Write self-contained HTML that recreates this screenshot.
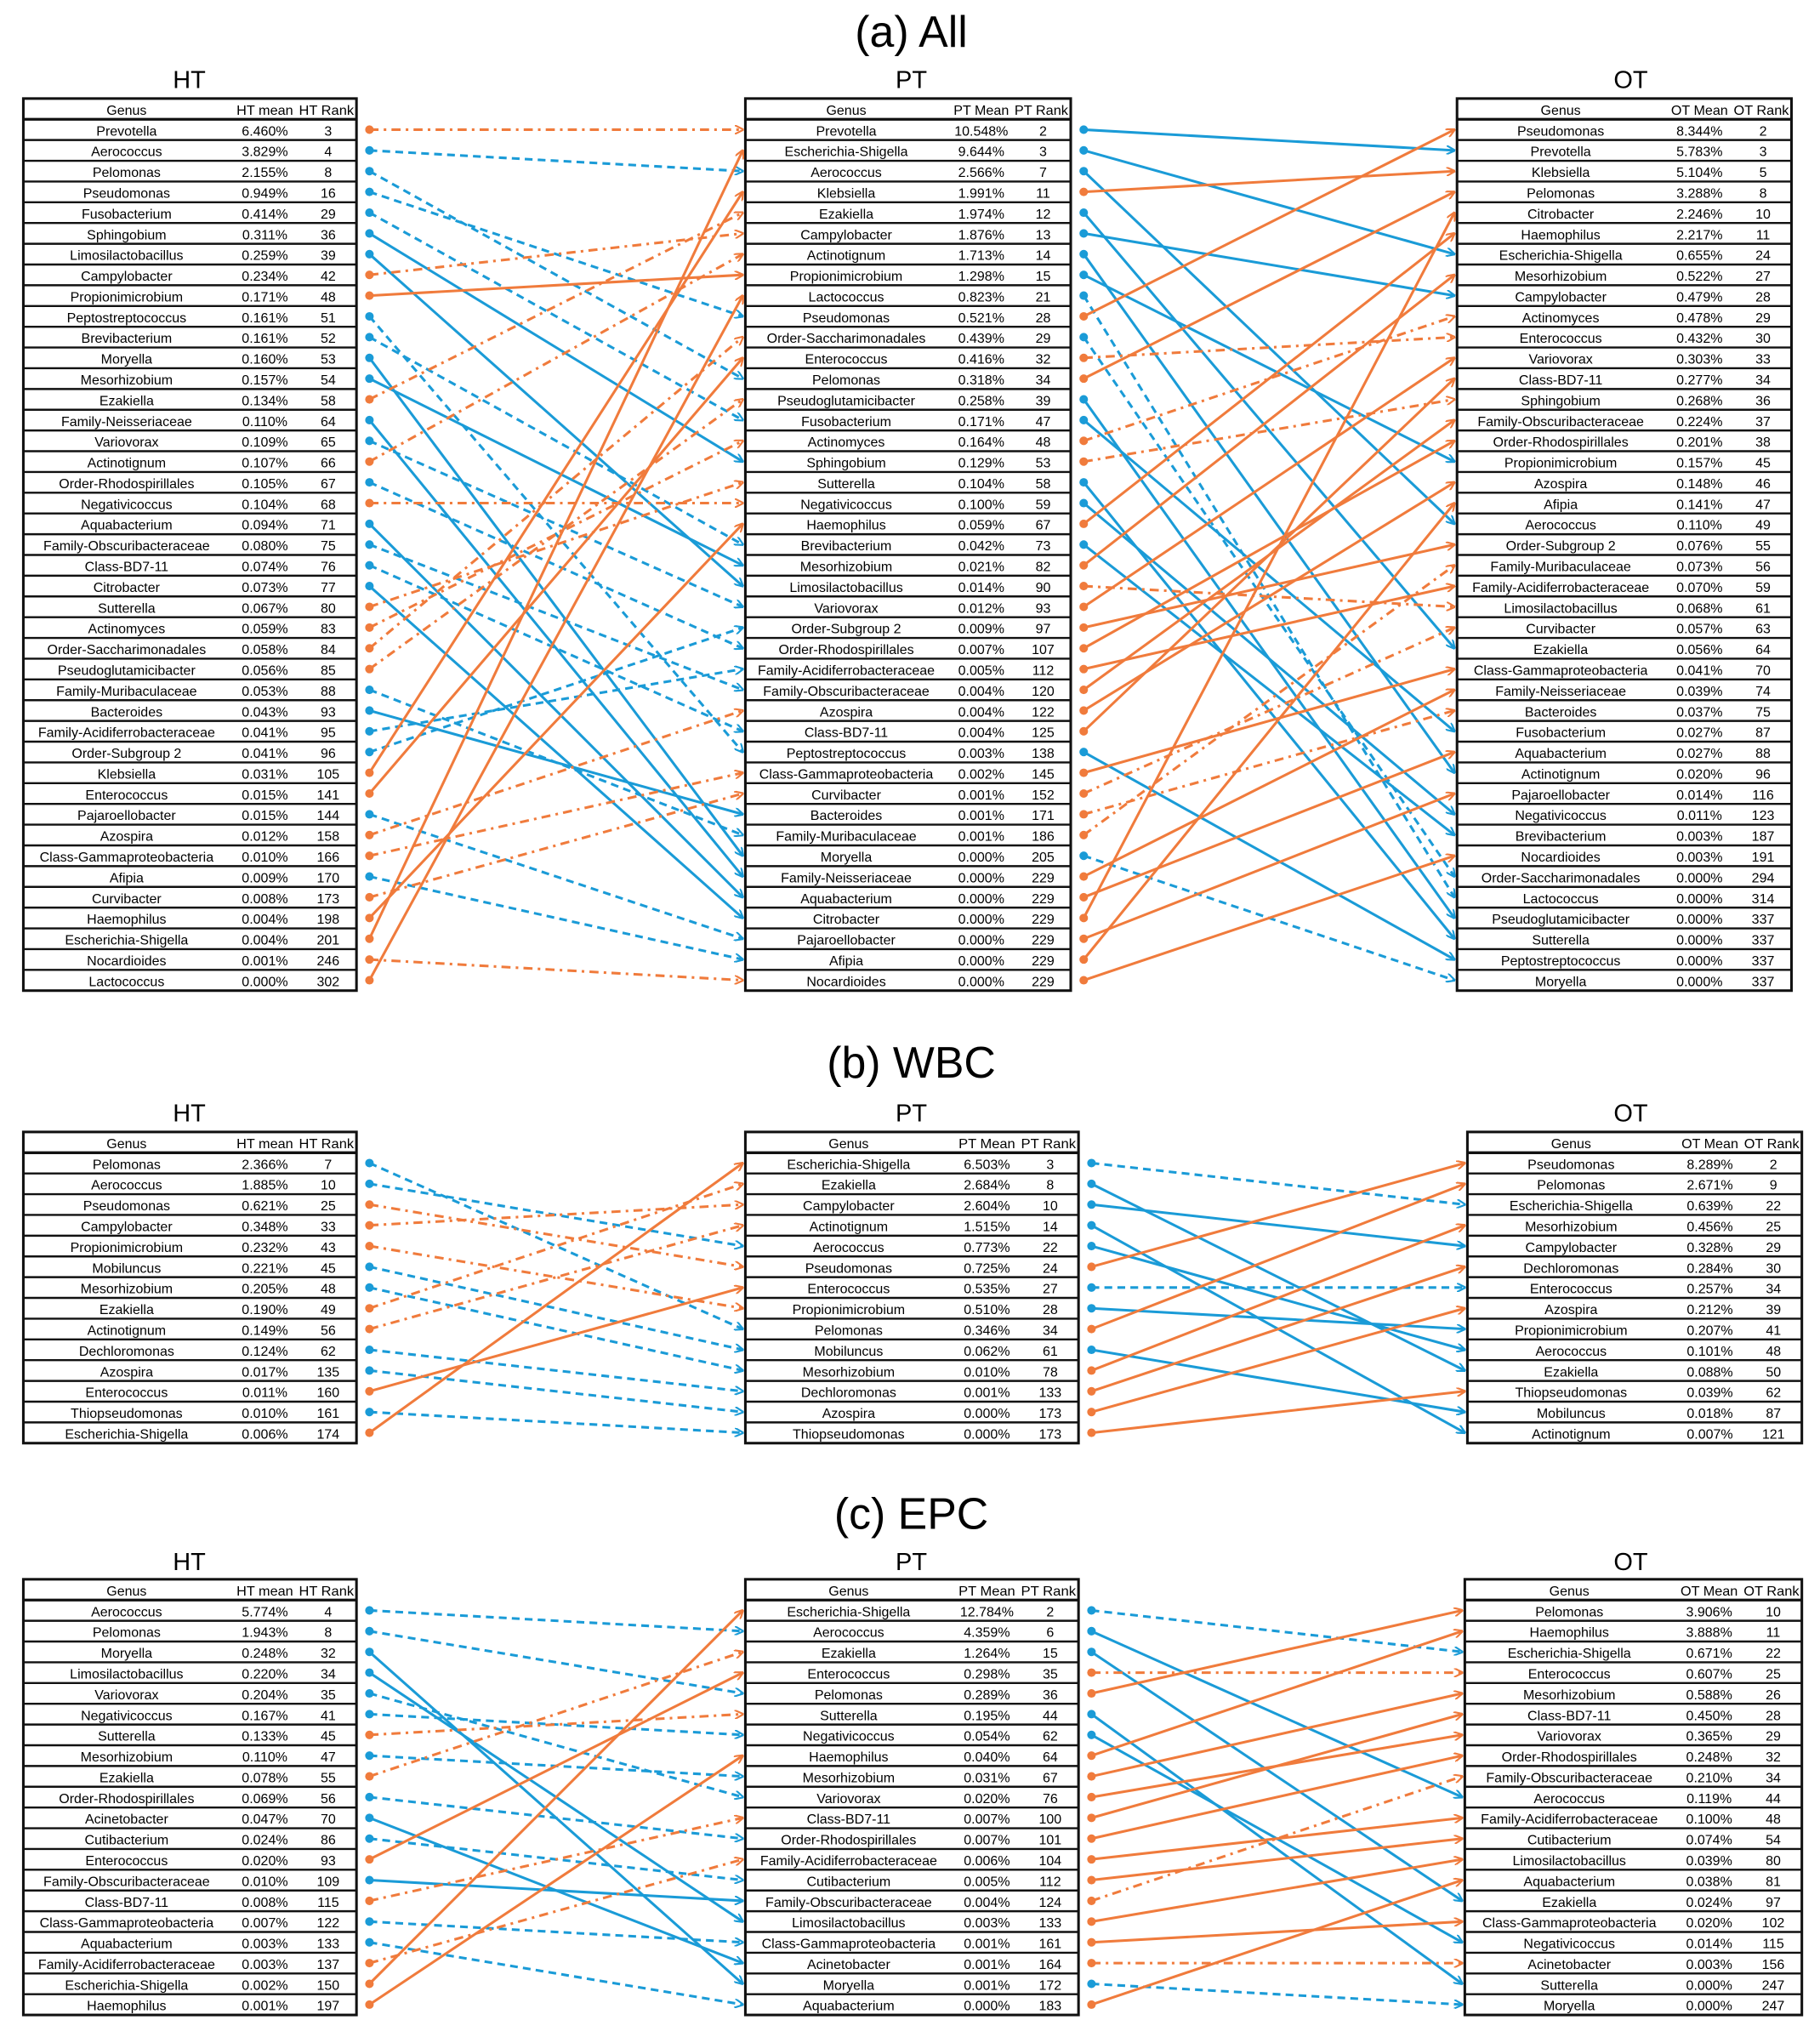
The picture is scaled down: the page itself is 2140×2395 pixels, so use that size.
<!DOCTYPE html>
<html><head><meta charset="utf-8"><style>
html,body{margin:0;padding:0;background:#fff;}
svg{display:block;}
text{font-family:"Liberation Sans",sans-serif;}
</style></head><body>
<svg id="s" xmlns="http://www.w3.org/2000/svg" width="2140" height="2395" viewBox="0 0 1404 1571" preserveAspectRatio="none">
<defs>
<marker id="ab" viewBox="0 0 10 10" refX="9" refY="5" markerWidth="7" markerHeight="7" orient="auto" markerUnits="userSpaceOnUse"><path d="M0,0 L10,5 L0,10" fill="none" stroke="#1a9bd7" stroke-width="2"/></marker>
<marker id="ao" viewBox="0 0 10 10" refX="9" refY="5" markerWidth="7" markerHeight="7" orient="auto" markerUnits="userSpaceOnUse"><path d="M0,0 L10,5 L0,10" fill="none" stroke="#f07b3c" stroke-width="2"/></marker>
</defs>
<g id="g"></g>
</svg>
<script>
const NS="http://www.w3.org/2000/svg";const G=document.getElementById('g');
function el(t,a,txt){const e=document.createElementNS(NS,t);for(const k in a)e.setAttribute(k,a[k]);if(txt!==undefined)e.textContent=txt;G.appendChild(e);return e;}
function parse(s){return s.split(';').map(r=>{const p=r.split('|');return {n:p[0],v:p[1],r:+p[2]};});}
function table(x0,x1,top,rows,h1,h2){
 const w=x1-x0,rh=16,y1=top+16+rows.length*rh;
 const cg=x0+0.31*w,cm=x0+0.725*w,cr=x0+0.915*w;
 el('rect',{x:x0,y:top,width:w,height:y1-top,fill:'none',stroke:'#111','stroke-width':2});
 el('text',{x:cg,y:top+12.5,'text-anchor':'middle','font-size':10.5},'Genus');
 el('text',{x:cm,y:top+12.5,'text-anchor':'middle','font-size':10,textLength:w*0.17,lengthAdjust:'spacingAndGlyphs'},h1);
 el('text',{x:x1-2,y:top+12.5,'text-anchor':'end','font-size':10,textLength:w*0.165,lengthAdjust:'spacingAndGlyphs'},h2);
 rows.forEach((r,i)=>{const y=top+16+i*rh;
  el('line',{x1:x0,x2:x1,y1:y,y2:y,stroke:'#111','stroke-width':i==0?2.2:1.6});
  el('text',{x:cg,y:y+12.5,'text-anchor':'middle','font-size':10.5},r.n);
  el('text',{x:cm,y:y+12.5,'text-anchor':'middle','font-size':10.5},r.v);
  el('text',{x:cr,y:y+12.5,'text-anchor':'middle','font-size':10.5},r.r);
 });
}
function links(A,B,xa,xb,top,solid,allSolidExcept){
 A.forEach((a,i)=>{const j=B.findIndex(b=>b.n==a.n);if(j<0)return;
  const b=B[j];const or=b.r<a.r;const c=or?'#f07b3c':'#1a9bd7';
  let sol=allSolidExcept?!solid.includes(a.n):solid.includes(a.n);
  const y1=top+24+i*16,y2=top+24+j*16;
  const da=sol?'':(or?'7,4,2,4':'6,4');
  el('line',{x1:xa+10,y1:y1,x2:xb-2,y2:y2,stroke:c,'stroke-width':2,'stroke-dasharray':da,'marker-end':or?'url(#ao)':'url(#ab)'});
  el('circle',{cx:xa+10,cy:y1,r:3.3,fill:c});
 });
}
function title(t,y){el('text',{x:703,y:y,'text-anchor':'middle','font-size':34},t);}
function lab(t,x,y){el('text',{x:x,y:y,'text-anchor':'middle','font-size':19},t);}

// (a)
title('(a) All',36);lab('HT',146,68);lab('PT',703,68);lab('OT',1258,68);
const aH=parse("Prevotella|6.460%|3;Aerococcus|3.829%|4;Pelomonas|2.155%|8;Pseudomonas|0.949%|16;Fusobacterium|0.414%|29;Sphingobium|0.311%|36;Limosilactobacillus|0.259%|39;Campylobacter|0.234%|42;Propionimicrobium|0.171%|48;Peptostreptococcus|0.161%|51;Brevibacterium|0.161%|52;Moryella|0.160%|53;Mesorhizobium|0.157%|54;Ezakiella|0.134%|58;Family-Neisseriaceae|0.110%|64;Variovorax|0.109%|65;Actinotignum|0.107%|66;Order-Rhodospirillales|0.105%|67;Negativicoccus|0.104%|68;Aquabacterium|0.094%|71;Family-Obscuribacteraceae|0.080%|75;Class-BD7-11|0.074%|76;Citrobacter|0.073%|77;Sutterella|0.067%|80;Actinomyces|0.059%|83;Order-Saccharimonadales|0.058%|84;Pseudoglutamicibacter|0.056%|85;Family-Muribaculaceae|0.053%|88;Bacteroides|0.043%|93;Family-Acidiferrobacteraceae|0.041%|95;Order-Subgroup 2|0.041%|96;Klebsiella|0.031%|105;Enterococcus|0.015%|141;Pajaroellobacter|0.015%|144;Azospira|0.012%|158;Class-Gammaproteobacteria|0.010%|166;Afipia|0.009%|170;Curvibacter|0.008%|173;Haemophilus|0.004%|198;Escherichia-Shigella|0.004%|201;Nocardioides|0.001%|246;Lactococcus|0.000%|302");
const aP=parse("Prevotella|10.548%|2;Escherichia-Shigella|9.644%|3;Aerococcus|2.566%|7;Klebsiella|1.991%|11;Ezakiella|1.974%|12;Campylobacter|1.876%|13;Actinotignum|1.713%|14;Propionimicrobium|1.298%|15;Lactococcus|0.823%|21;Pseudomonas|0.521%|28;Order-Saccharimonadales|0.439%|29;Enterococcus|0.416%|32;Pelomonas|0.318%|34;Pseudoglutamicibacter|0.258%|39;Fusobacterium|0.171%|47;Actinomyces|0.164%|48;Sphingobium|0.129%|53;Sutterella|0.104%|58;Negativicoccus|0.100%|59;Haemophilus|0.059%|67;Brevibacterium|0.042%|73;Mesorhizobium|0.021%|82;Limosilactobacillus|0.014%|90;Variovorax|0.012%|93;Order-Subgroup 2|0.009%|97;Order-Rhodospirillales|0.007%|107;Family-Acidiferrobacteraceae|0.005%|112;Family-Obscuribacteraceae|0.004%|120;Azospira|0.004%|122;Class-BD7-11|0.004%|125;Peptostreptococcus|0.003%|138;Class-Gammaproteobacteria|0.002%|145;Curvibacter|0.001%|152;Bacteroides|0.001%|171;Family-Muribaculaceae|0.001%|186;Moryella|0.000%|205;Family-Neisseriaceae|0.000%|229;Aquabacterium|0.000%|229;Citrobacter|0.000%|229;Pajaroellobacter|0.000%|229;Afipia|0.000%|229;Nocardioides|0.000%|229");
const aO=parse("Pseudomonas|8.344%|2;Prevotella|5.783%|3;Klebsiella|5.104%|5;Pelomonas|3.288%|8;Citrobacter|2.246%|10;Haemophilus|2.217%|11;Escherichia-Shigella|0.655%|24;Mesorhizobium|0.522%|27;Campylobacter|0.479%|28;Actinomyces|0.478%|29;Enterococcus|0.432%|30;Variovorax|0.303%|33;Class-BD7-11|0.277%|34;Sphingobium|0.268%|36;Family-Obscuribacteraceae|0.224%|37;Order-Rhodospirillales|0.201%|38;Propionimicrobium|0.157%|45;Azospira|0.148%|46;Afipia|0.141%|47;Aerococcus|0.110%|49;Order-Subgroup 2|0.076%|55;Family-Muribaculaceae|0.073%|56;Family-Acidiferrobacteraceae|0.070%|59;Limosilactobacillus|0.068%|61;Curvibacter|0.057%|63;Ezakiella|0.056%|64;Class-Gammaproteobacteria|0.041%|70;Family-Neisseriaceae|0.039%|74;Bacteroides|0.037%|75;Fusobacterium|0.027%|87;Aquabacterium|0.027%|88;Actinotignum|0.020%|96;Pajaroellobacter|0.014%|116;Negativicoccus|0.011%|123;Brevibacterium|0.003%|187;Nocardioides|0.003%|191;Order-Saccharimonadales|0.000%|294;Lactococcus|0.000%|314;Pseudoglutamicibacter|0.000%|337;Sutterella|0.000%|337;Peptostreptococcus|0.000%|337;Moryella|0.000%|337");
table(18,275,76,aH,'HT mean','HT Rank');table(575,826,76,aP,'PT Mean','PT Rank');table(1124,1382,76,aO,'OT Mean','OT Rank');
links(aH,aP,275,575,76,['Sphingobium','Limosilactobacillus','Propionimicrobium','Moryella','Mesorhizobium','Family-Neisseriaceae','Aquabacterium','Citrobacter','Bacteroides','Klebsiella','Enterococcus','Haemophilus','Escherichia-Shigella','Lactococcus'],false);
links(aP,aO,826,1124,76,['Lactococcus','Order-Saccharimonadales','Enterococcus','Actinomyces','Sphingobium','Limosilactobacillus','Curvibacter','Bacteroides','Family-Muribaculaceae','Moryella'],true);

// (b)
title('(b) WBC',831);lab('HT',146,865);lab('PT',703,865);lab('OT',1258,865);
const bH=parse("Pelomonas|2.366%|7;Aerococcus|1.885%|10;Pseudomonas|0.621%|25;Campylobacter|0.348%|33;Propionimicrobium|0.232%|43;Mobiluncus|0.221%|45;Mesorhizobium|0.205%|48;Ezakiella|0.190%|49;Actinotignum|0.149%|56;Dechloromonas|0.124%|62;Azospira|0.017%|135;Enterococcus|0.011%|160;Thiopseudomonas|0.010%|161;Escherichia-Shigella|0.006%|174");
const bP=parse("Escherichia-Shigella|6.503%|3;Ezakiella|2.684%|8;Campylobacter|2.604%|10;Actinotignum|1.515%|14;Aerococcus|0.773%|22;Pseudomonas|0.725%|24;Enterococcus|0.535%|27;Propionimicrobium|0.510%|28;Pelomonas|0.346%|34;Mobiluncus|0.062%|61;Mesorhizobium|0.010%|78;Dechloromonas|0.001%|133;Azospira|0.000%|173;Thiopseudomonas|0.000%|173");
const bO=parse("Pseudomonas|8.289%|2;Pelomonas|2.671%|9;Escherichia-Shigella|0.639%|22;Mesorhizobium|0.456%|25;Campylobacter|0.328%|29;Dechloromonas|0.284%|30;Enterococcus|0.257%|34;Azospira|0.212%|39;Propionimicrobium|0.207%|41;Aerococcus|0.101%|48;Ezakiella|0.088%|50;Thiopseudomonas|0.039%|62;Mobiluncus|0.018%|87;Actinotignum|0.007%|121");
table(18,275,873,bH,'HT mean','HT Rank');table(575,832,873,bP,'PT Mean','PT Rank');table(1132,1390,873,bO,'OT Mean','OT Rank');
links(bH,bP,275,575,873,['Enterococcus','Escherichia-Shigella'],false);
links(bP,bO,832,1132,873,['Escherichia-Shigella','Enterococcus'],true);

// (c)
title('(c) EPC',1179);lab('HT',146,1211);lab('PT',703,1211);lab('OT',1258,1211);
const cH=parse("Aerococcus|5.774%|4;Pelomonas|1.943%|8;Moryella|0.248%|32;Limosilactobacillus|0.220%|34;Variovorax|0.204%|35;Negativicoccus|0.167%|41;Sutterella|0.133%|45;Mesorhizobium|0.110%|47;Ezakiella|0.078%|55;Order-Rhodospirillales|0.069%|56;Acinetobacter|0.047%|70;Cutibacterium|0.024%|86;Enterococcus|0.020%|93;Family-Obscuribacteraceae|0.010%|109;Class-BD7-11|0.008%|115;Class-Gammaproteobacteria|0.007%|122;Aquabacterium|0.003%|133;Family-Acidiferrobacteraceae|0.003%|137;Escherichia-Shigella|0.002%|150;Haemophilus|0.001%|197");
const cP=parse("Escherichia-Shigella|12.784%|2;Aerococcus|4.359%|6;Ezakiella|1.264%|15;Enterococcus|0.298%|35;Pelomonas|0.289%|36;Sutterella|0.195%|44;Negativicoccus|0.054%|62;Haemophilus|0.040%|64;Mesorhizobium|0.031%|67;Variovorax|0.020%|76;Class-BD7-11|0.007%|100;Order-Rhodospirillales|0.007%|101;Family-Acidiferrobacteraceae|0.006%|104;Cutibacterium|0.005%|112;Family-Obscuribacteraceae|0.004%|124;Limosilactobacillus|0.003%|133;Class-Gammaproteobacteria|0.001%|161;Acinetobacter|0.001%|164;Moryella|0.001%|172;Aquabacterium|0.000%|183");
const cO=parse("Pelomonas|3.906%|10;Haemophilus|3.888%|11;Escherichia-Shigella|0.671%|22;Enterococcus|0.607%|25;Mesorhizobium|0.588%|26;Class-BD7-11|0.450%|28;Variovorax|0.365%|29;Order-Rhodospirillales|0.248%|32;Family-Obscuribacteraceae|0.210%|34;Aerococcus|0.119%|44;Family-Acidiferrobacteraceae|0.100%|48;Cutibacterium|0.074%|54;Limosilactobacillus|0.039%|80;Aquabacterium|0.038%|81;Ezakiella|0.024%|97;Class-Gammaproteobacteria|0.020%|102;Negativicoccus|0.014%|115;Acinetobacter|0.003%|156;Sutterella|0.000%|247;Moryella|0.000%|247");
table(18,275,1218,cH,'HT mean','HT Rank');table(575,832,1218,cP,'PT Mean','PT Rank');table(1130,1390,1218,cO,'OT Mean','OT Rank');
links(cH,cP,275,575,1218,['Moryella','Limosilactobacillus','Acinetobacter','Family-Obscuribacteraceae','Enterococcus','Escherichia-Shigella','Haemophilus'],false);
links(cP,cO,832,1130,1218,['Escherichia-Shigella','Enterococcus','Family-Obscuribacteraceae','Acinetobacter','Moryella'],true);
</script>
</body></html>
